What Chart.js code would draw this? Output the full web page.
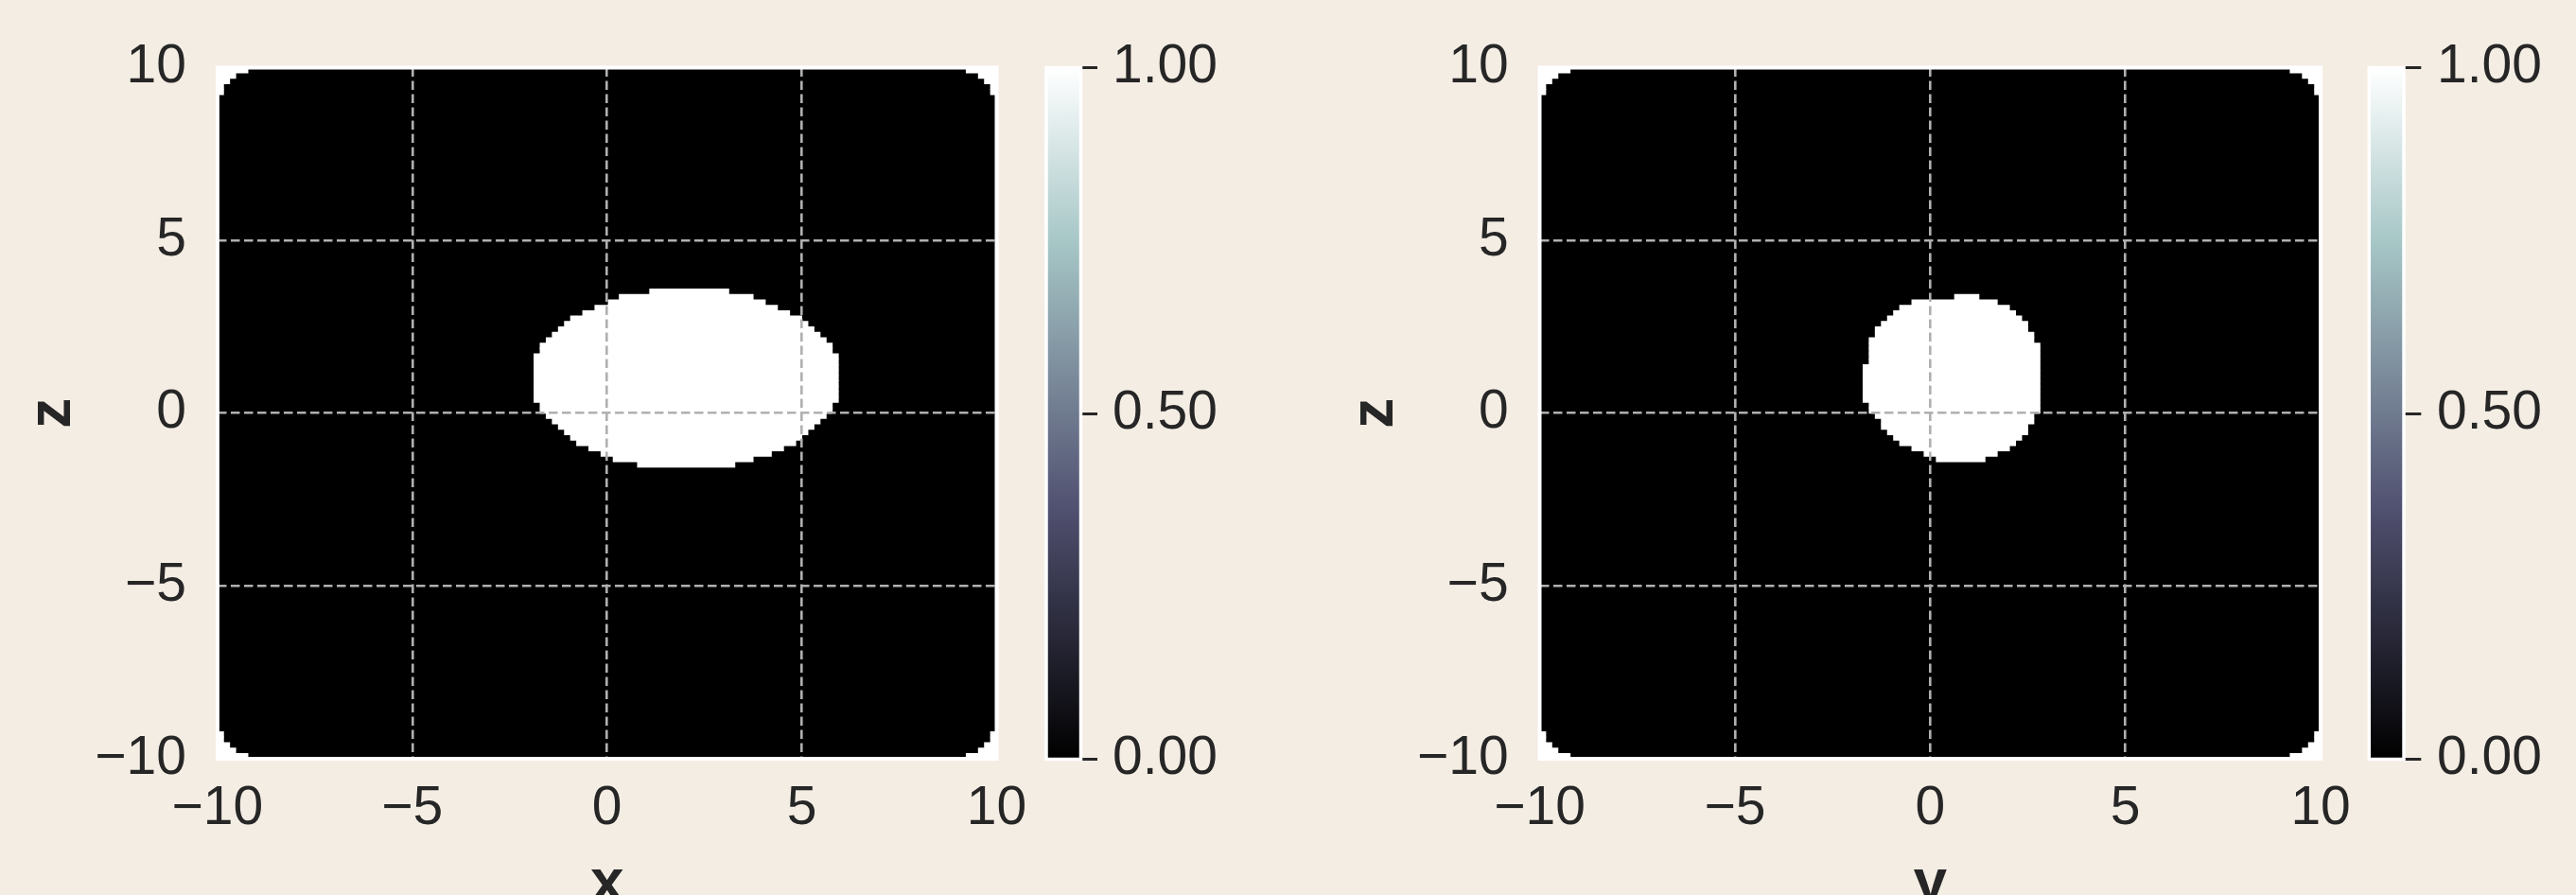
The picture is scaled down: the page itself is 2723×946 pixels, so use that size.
<!DOCTYPE html>
<html><head><meta charset="utf-8">
<script src="https://cdn.jsdelivr.net/npm/chart.js@4.4.1/dist/chart.umd.min.js"></script>
<style>
html,body{margin:0;padding:0;background:#f4ede4;width:2723px;height:946px;overflow:hidden}
canvas{position:absolute;top:0}
</style></head><body>
<canvas id="hxz" width="1090" height="946" style="left:0px"></canvas>
<canvas id="cxz" width="300" height="946" style="left:1090px"></canvas>
<canvas id="hyz" width="1100" height="946" style="left:1390px"></canvas>
<canvas id="cyz" width="233" height="946" style="left:2490px"></canvas>
<script>
// ---- grid of the mask (128 x 128 cells over [-10, 10]) ----
const GRID_N = 128, GRID_MIN = -10, GRID_MAX = 10;
const axisTicks = [-10, -5, 0, 5, 10];
const colorbarTicks = [0, 0.5, 1];

// x–z slice: cells with value 1 (white), per row: row index, first edge, last edge
const xzRow  = [86,85,84,83,82,81,80,79,78,77,76,75,74,73,72,71,70,69,68,67,66,65,64,63,62,61,60,59,58,57,56,55,54];
const xzFrom = [71,66,64,62,60,58,57,56,55,54,53,53,52,52,52,52,52,52,52,52,52,53,53,54,55,56,57,58,59,61,63,65,69];
const xzTo   = [84,88,90,92,94,96,97,98,99,100,101,101,102,102,102,102,102,102,102,102,102,101,101,100,99,98,97,96,95,93,91,88,85];

// y–z slice: cells with value 1 (white)
const yzRow  = [85,84,83,82,81,80,79,78,77,76,75,74,73,72,71,70,69,68,67,66,65,64,63,62,61,60,59,58,57,56,55];
const yzFrom = [68,61,59,58,57,56,55,55,54,54,54,54,54,53,53,53,53,53,53,53,54,54,55,56,56,57,58,59,61,63,65];
const yzTo   = [72,75,77,78,79,80,80,81,81,82,82,82,82,82,82,82,82,82,82,82,82,82,81,81,80,80,79,78,77,75,73];

// cells outside the domain (white corners): row index and number of cells from each side
const cornerRow   = [127,126,125,124,123,4,3,2,1,0];
const cornerWidth = [5,3,2,1,1,1,1,2,3,5];

// ---- helpers ----
const STEP = (GRID_MAX - GRID_MIN) / GRID_N;
const edge = e => GRID_MIN + e * STEP;
const rowCenter = k => GRID_MIN + (k + 0.5) * STEP;
const FONT = "'Liberation Sans', Arial, Helvetica, sans-serif";
const TEXT = '#262626';
const fmtTick = v => (v < 0 ? '\u2212' + Math.abs(v) : String(v));

const spine = {
  id: 'spine',
  afterDraw(chart, args, o) {
    const {ctx, chartArea: a} = chart;
    ctx.save();
    ctx.strokeStyle = '#ffffff';
    ctx.lineWidth = o.width;
    ctx.strokeRect(a.left, a.top, a.right - a.left, a.bottom - a.top);
    ctx.restore();
  }
};

function makeHeatmap(id, rows, froms, tos, xTitle, yAxisWidth, padRight, yTitlePad) {
  const ones = rows.map((k, i) => ({y: rowCenter(k), x: [edge(froms[i]), edge(tos[i])]}));
  const outside = [];
  cornerRow.forEach((k, i) => {
    outside.push({y: rowCenter(k), x: [edge(0), edge(cornerWidth[i])]});
    outside.push({y: rowCenter(k), x: [edge(GRID_N - cornerWidth[i]), edge(GRID_N)]});
  });
  const zeros = [];
  for (let k = 0; k < GRID_N; k++) zeros.push({y: rowCenter(k), x: [edge(0), edge(GRID_N)]});
  const barOpts = {grouped: false, categoryPercentage: 1, barPercentage: 1, borderWidth: 0, inflateAmount: 0.4};
  const gridColor = c => (c.tick && Math.abs(c.tick.value) === 10) ? 'rgba(0,0,0,0)' : '#b0b0b0';
  const tickFont = {family: FONT, size: 57};
  const titleFont = {family: FONT, size: 64, weight: 'bold', lineHeight: 0.6};
  const noPad = s => { s.paddingLeft = 0; s.paddingRight = 0; s.paddingTop = 0; s.paddingBottom = 0; };
  return new Chart(document.getElementById(id), {
    type: 'bar',
    data: {datasets: [
      Object.assign({label: 'value 1', data: ones, backgroundColor: '#ffffff', order: 0}, barOpts),
      Object.assign({label: 'outside', data: outside, backgroundColor: '#ffffff', order: 0}, barOpts),
      Object.assign({label: 'value 0', data: zeros, backgroundColor: '#000000', order: 1}, barOpts)
    ]},
    options: {
      indexAxis: 'y', responsive: false, animation: false, devicePixelRatio: 1,
      layout: {padding: {left: 0, right: padRight, top: 71.5, bottom: 0}},
      plugins: {legend: {display: false}, tooltip: {enabled: false}, spine: {width: 4}},
      scales: {
        x: {
          type: 'linear', position: 'bottom', min: GRID_MIN, max: GRID_MAX, offset: false,
          afterBuildTicks: s => { s.ticks = axisTicks.map(v => ({value: v})); },
          afterFit: s => { s.height = 144; noPad(s); },
          ticks: {callback: fmtTick, color: TEXT, font: tickFont, padding: 18.6, maxRotation: 0, autoSkip: false},
          grid: {color: gridColor, lineWidth: 2.6, drawTicks: false, offset: false, z: 1},
          border: {display: false, dash: [9.5, 4.5]},
          title: {display: true, text: xTitle, color: TEXT, font: titleFont, padding: {top: 0, bottom: -9}}
        },
        y: {
          type: 'linear', position: 'left', min: GRID_MIN, max: GRID_MAX, offset: false,
          afterBuildTicks: s => { s.ticks = axisTicks.map(v => ({value: v})); },
          afterFit: s => { s.width = yAxisWidth; noPad(s); },
          ticks: {callback: fmtTick, color: TEXT, font: tickFont, padding: 32.9, autoSkip: false},
          grid: {color: gridColor, lineWidth: 2.6, drawTicks: false, offset: false, z: 1},
          border: {display: false, dash: [9.5, 4.5]},
          title: {display: true, text: 'z', color: TEXT, font: titleFont, padding: {top: yTitlePad, bottom: 0}}
        }
      }
    },
    plugins: [spine]
  });
}

// bone colormap stops
const boneStops = [[0, '#000000'], [0.365079, 'rgb(81,81,113)'], [0.746032, 'rgb(166,198,198)'], [1, '#ffffff']];

function makeColorbar(id, padLeft, axisWidth, tickLen, labelPad) {
  return new Chart(document.getElementById(id), {
    type: 'bar',
    data: {labels: ['colorbar'], datasets: [{
      data: [[0, 1]],
      backgroundColor: c => {
        const a = c.chart.chartArea;
        if (!a) return '#888';
        const g = c.chart.ctx.createLinearGradient(0, a.bottom, 0, a.top);
        boneStops.forEach(s => g.addColorStop(s[0], s[1]));
        return g;
      },
      borderWidth: 0, categoryPercentage: 1, barPercentage: 1
    }]},
    options: {
      responsive: false, animation: false, devicePixelRatio: 1,
      layout: {padding: {left: padLeft, right: 0, top: 71.5, bottom: 143.5}},
      plugins: {legend: {display: false}, tooltip: {enabled: false}, spine: {width: 3.5}},
      scales: {
        x: {display: false},
        y: {
          type: 'linear', position: 'right', min: 0, max: 1,
          afterBuildTicks: s => { s.ticks = colorbarTicks.map(v => ({value: v})); },
          afterFit: s => { s.width = axisWidth; s.paddingTop = 0; s.paddingBottom = 0; },
          ticks: {callback: v => v.toFixed(2), color: TEXT, font: {family: FONT, size: 57}, padding: labelPad},
          grid: {drawOnChartArea: false, drawTicks: true, tickLength: tickLen, tickColor: TEXT, tickWidth: 3},
          border: {display: false}
        }
      }
    },
    plugins: [spine]
  });
}

makeHeatmap('hxz', xzRow, xzFrom, xzTo, 'x', 229.9, 36.5, 37);
makeColorbar('cxz', 16, 247.5, 17.5, 16);
makeHeatmap('hyz', yzRow, yzFrom, yzTo, 'y', 237.5, 36.9, 45);
makeColorbar('cyz', 14.3, 182, 18.3, 16.7);
</script>
</body></html>
